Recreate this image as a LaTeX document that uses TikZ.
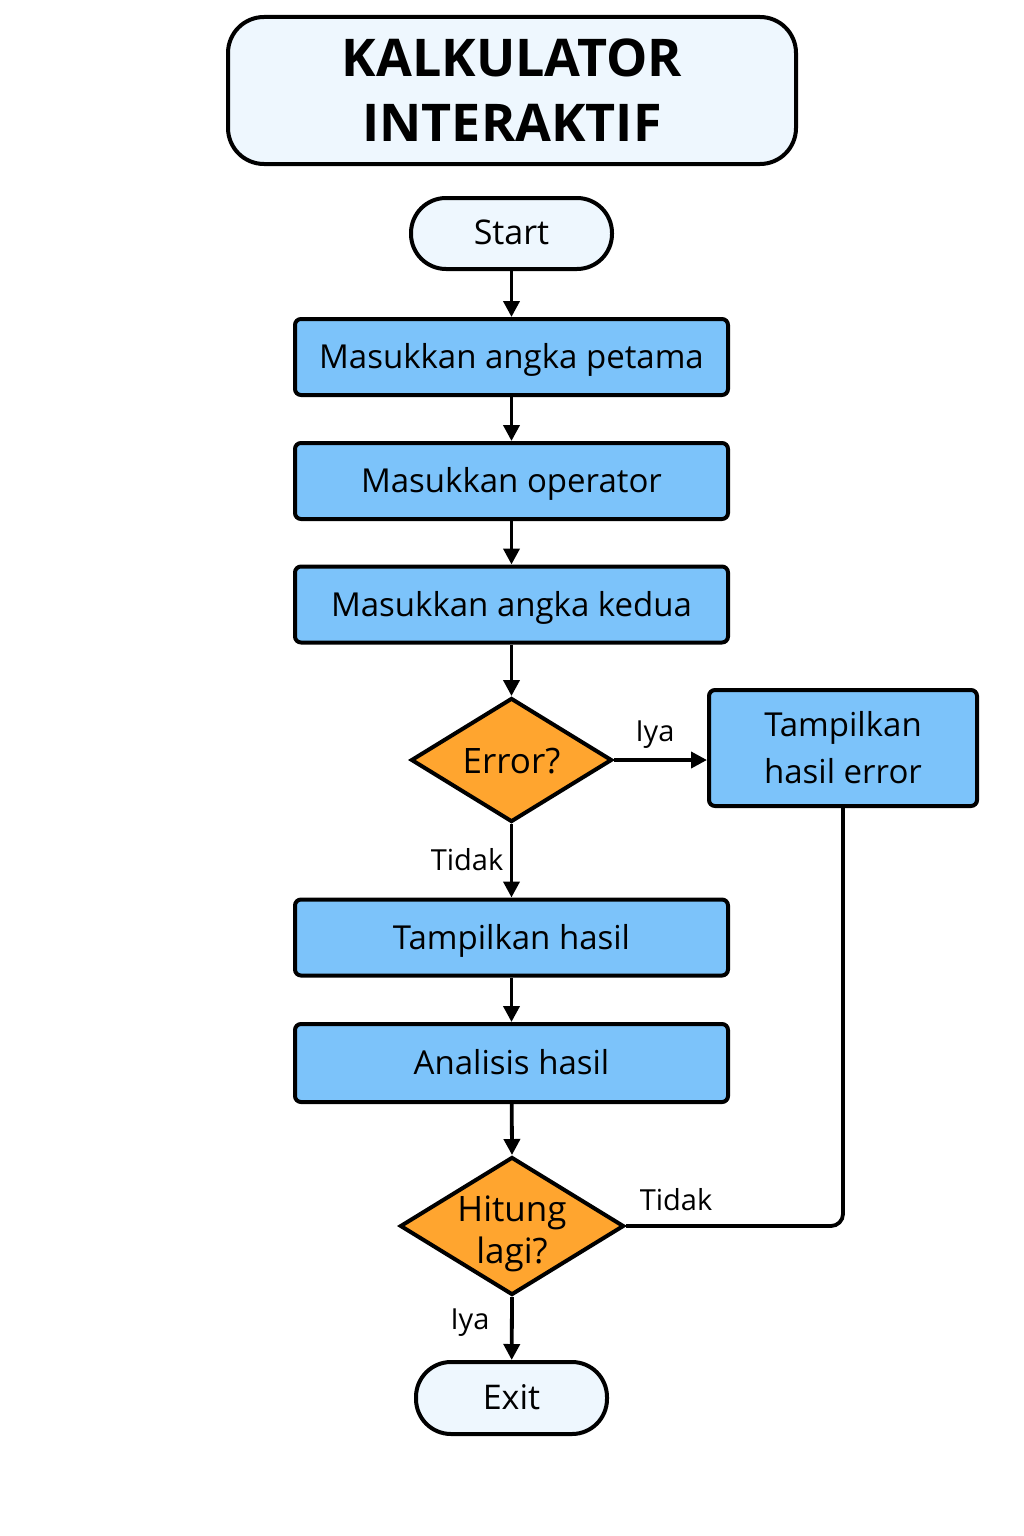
\documentclass[tikz,border=0pt]{standalone}
\usepackage{fontspec}
\setmainfont{Open Sans}
\usetikzlibrary{shapes.geometric,arrows.meta,calc}
\definecolor{boxblue}{HTML}{7CC3FA}
\definecolor{termblue}{HTML}{EEF7FE}
\definecolor{decor}{HTML}{FFA52F}
\tikzset{
  base/.style={draw=black, line width=4pt, inner sep=0pt, align=center},
  titlebox/.style={base, fill=termblue, rounded corners=36pt, minimum width=568pt, minimum height=147pt, font=\fontsize{52}{65}\selectfont\bfseries},
  term/.style={base, fill=termblue, rounded corners=35pt, font=\fontsize{34}{40}\selectfont, text depth=2pt},
  procbox/.style={base, fill=boxblue, rounded corners=6pt, minimum width=433pt, minimum height=76pt, font=\fontsize{33}{38}\selectfont, text depth=2pt},
  decision/.style={base, diamond, fill=decor, line join=miter},
  line/.style={line width=3.8pt},
  arr/.style={line, -{Triangle[length=16pt,width=16pt]}},
  lbl/.style={font=\fontsize{29}{32}\selectfont, inner sep=0pt},
}
\begin{document}
\begin{tikzpicture}[x=1pt,y=-1pt]
\useasboundingbox (0,0) rectangle (1024,1536);
\fill[white] (0,0) rectangle (1024,1536);
\node[titlebox] (title) at (512,90.5) {KALKULATOR\\INTERAKTIF};
\node[term, minimum width=201pt, minimum height=71pt] (start) at (511.5,233.5) {Start};
\node[procbox] (b1) at (511.5,357) {Masukkan angka petama};
\node[procbox] (b2) at (511.5,481) {Masukkan operator};
\node[procbox] (b3) at (511.5,604.5) {Masukkan angka kedua};
\node[decision, minimum width=201pt, minimum height=124pt,
  label={[font=\fontsize{35}{40}\selectfont, yshift=-1pt]center:Error?}] (d1) at (511.5,760) {};
\node[procbox, minimum width=268pt, minimum height=116pt, font=\fontsize{33}{47}\selectfont] (be) at (843,748) {Tampilkan\\hasil error};
\node[procbox] (b4) at (511.5,937.5) {Tampilkan hasil};
\node[procbox, minimum height=78pt] (b5) at (511.5,1063) {Analisis hasil};
\node[decision, minimum width=224pt, minimum height=138pt,
  label={[font=\fontsize{35}{42}\selectfont, align=center, yshift=-8pt]center:Hitung\\lagi?}] (d2) at (512,1226) {};
\node[term, minimum width=191pt, minimum height=72pt] (exit) at (511.5,1398) {Exit};

\draw[arr] (start) -- (b1);
\draw[arr] (b1) -- (b2);
\draw[arr] (b2) -- (b3);
\draw[arr] (b3) -- (d1.north);
\draw[arr] (d1.east) -- (be.west |- d1.east);
\draw[arr] (d1.south) -- (b4);
\draw[arr] (b4) -- (b5);
\draw[arr] (b5) -- (d2.north);
\draw[arr] (d2.south) -- (exit);
\draw[line, rounded corners=12pt] (d2.east) -- (be.south |- d2.east) -- (be.south);

\node[lbl] (l1) at (655,735) {Iya};
\node[lbl] (l2) at (467,860) {Tidak};
\node[lbl] (l3) at (676,1200) {Tidak};
\node[lbl] (l4) at (470,1323) {Iya};
\end{tikzpicture}
\end{document}
